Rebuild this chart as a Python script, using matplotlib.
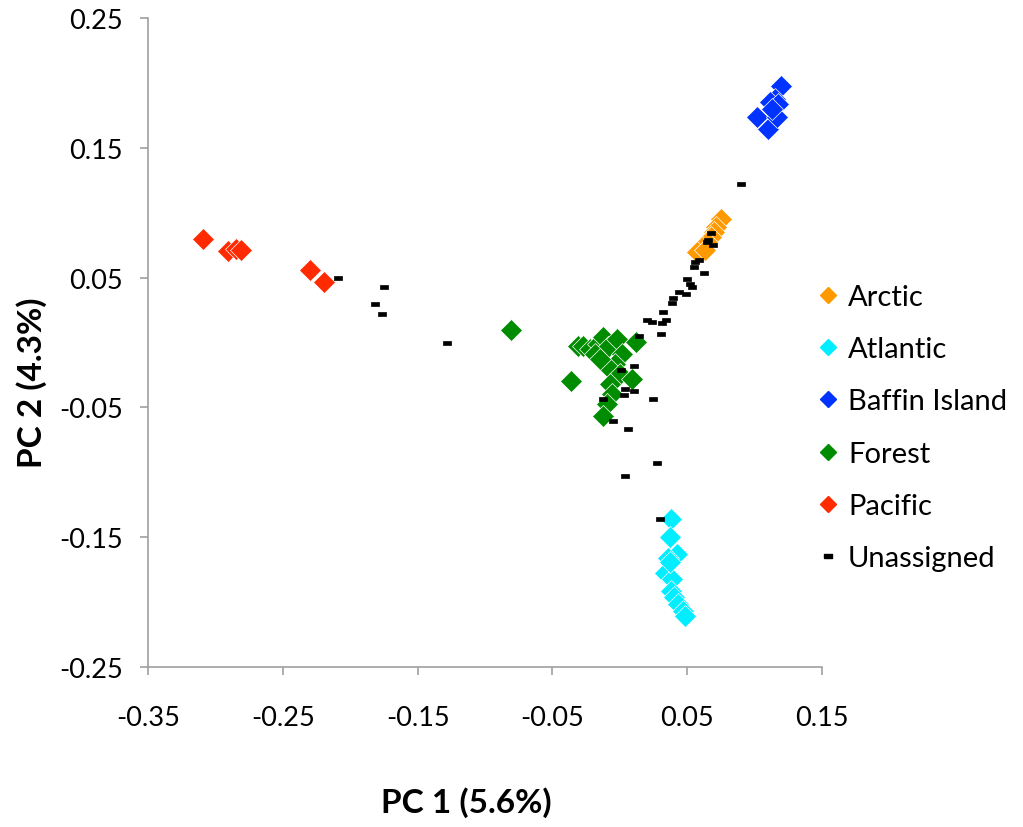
import numpy as np
import matplotlib.pyplot as plt
from matplotlib.lines import Line2D

plt.rcParams['font.family'] = ['Lato', 'DejaVu Sans']

# PCA scores per population (PC1, PC2)
arctic_pc1 = [0.0751, 0.0714, 0.0699, 0.0677, 0.0647, 0.0610, 0.0573, 0.0630]
arctic_pc2 = [0.0951, 0.0890, 0.0851, 0.0813, 0.0774, 0.0736, 0.0697, 0.0713]

atlantic_pc1 = [0.0380, 0.0372, 0.0424, 0.0358, 0.0335, 0.0387, 0.0372, 0.0380,
                0.0402, 0.0432, 0.0469, 0.0484]
atlantic_pc2 = [-0.1360, -0.1498, -0.1629, -0.1660, -0.1776, -0.1822, -0.1691, -0.1914,
                -0.1960, -0.2015, -0.2069, -0.2107]

baffin_pc1 = [0.1196, 0.1151, 0.1114, 0.1174, 0.1018, 0.1099, 0.1166, 0.1129]
baffin_pc2 = [0.1976, 0.1876, 0.1853, 0.1837, 0.1737, 0.1645, 0.1737, 0.1799]

forest_pc1 = [-0.0807, -0.0362, -0.0310, -0.0273, -0.0221, -0.0162, -0.0125, -0.0088,
              -0.0021, 0.0016, -0.0036, -0.0073, 0.0001, 0.0090, -0.0073, -0.0058,
              -0.0095, -0.0125, 0.0120, -0.0184, -0.0147]
forest_pc2 = [0.0096, -0.0297, -0.0027, -0.0027, -0.0050, -0.0012, 0.0042, -0.0035,
              0.0027, -0.0089, -0.0166, -0.0204, -0.0243, -0.0281, -0.0320, -0.0397,
              -0.0474, -0.0566, 0.0004, -0.0089, -0.0127]

pacific_pc1 = [-0.3090, -0.2907, -0.2847, -0.2810, -0.2298, -0.2194]
pacific_pc2 = [0.0797, 0.0705, 0.0720, 0.0713, 0.0559, 0.0466]

unassigned_pc1 = [-0.2091, -0.1749, -0.1816, -0.1764, -0.1282, 0.0899, 0.0677, 0.0654,
                  0.0691, 0.0647, 0.0588, 0.0558, 0.0550, 0.0625, 0.0499, 0.0521,
                  0.0536, 0.0439, 0.0491, 0.0395, 0.0387, 0.0320, 0.0202, 0.0239,
                  0.0313, 0.0343, 0.0306, 0.0142, 0.0105, 0.0009, 0.0039, 0.0105,
                  0.0031, -0.0125, 0.0246, -0.0050, 0.0061, 0.0276, 0.0039, 0.0298]
unassigned_pc2 = [0.0497, 0.0428, 0.0297, 0.0220, -0.0004, 0.1221, 0.0844, 0.0790,
                  0.0751, 0.0774, 0.0636, 0.0620, 0.0582, 0.0535, 0.0489, 0.0451,
                  0.0428, 0.0389, 0.0374, 0.0343, 0.0304, 0.0235, 0.0173, 0.0158,
                  0.0150, 0.0173, 0.0065, 0.0050, -0.0181, -0.0212, -0.0358, -0.0374,
                  -0.0404, -0.0435, -0.0435, -0.0605, -0.0666, -0.0928, -0.1029, -0.1360]

groups = [
    ('Arctic', arctic_pc1, arctic_pc2, '#FF9900'),
    ('Atlantic', atlantic_pc1, atlantic_pc2, '#00EEFF'),
    ('Baffin Island', baffin_pc1, baffin_pc2, '#0033FF'),
    ('Forest', forest_pc1, forest_pc2, '#008C00'),
    ('Pacific', pacific_pc1, pacific_pc2, '#FF2A00'),
]

# short horizontal bar used for unassigned samples
dash = [(-1, -0.42), (1, -0.42), (1, 0.42), (-1, 0.42), (-1, -0.42)]

fig = plt.figure(figsize=(10.23, 8.28), dpi=100)
ax = fig.add_axes([148 / 1023, 1 - 668 / 828, 674 / 1023, 649 / 828])

handles = []
for name, xs, ys, col in groups:
    ax.plot(xs, ys, linestyle='none', marker='D', ms=11.5, mfc=col, mec='white',
            mew=0.5, clip_on=False)
    handles.append(Line2D([], [], linestyle='none', marker='D', ms=8,
                          mfc=col, mec=col, label=name))

ax.plot(unassigned_pc1, unassigned_pc2, linestyle='none', marker=dash, ms=6,
        mfc='black', mec='black', mew=0.5, zorder=3)
handles.append(Line2D([], [], linestyle='none', marker=dash, ms=6,
                      mfc='black', mec='black', label='Unassigned'))

ax.set_xlim(-0.35, 0.15)
ax.set_ylim(-0.25, 0.25)
ax.set_xticks(np.arange(-0.35, 0.16, 0.1))
ax.set_yticks(np.arange(-0.25, 0.26, 0.1))
ax.set_xticklabels(['-0.35', '-0.25', '-0.15', '-0.05', '0.05', '0.15'])
ax.set_yticklabels(['-0.25', '-0.15', '-0.05', '0.05', '0.15', '0.25'])

for side in ['top', 'right']:
    ax.spines[side].set_visible(False)
for side in ['left', 'bottom']:
    ax.spines[side].set_color('#A0A0A0')
    ax.spines[side].set_linewidth(1.2)
ax.tick_params(direction='out', length=6, width=1.2, color='#A0A0A0',
               labelsize=19.5, labelcolor='black')
ax.tick_params(axis='x', pad=21)
ax.tick_params(axis='y', pad=12)

fig.text(466 / 1023, 1 - 803 / 828, 'PC 1 (5.6%)', ha='center', va='center',
         fontsize=24, fontweight='bold')
fig.text(32 / 1023, 1 - 383 / 828, 'PC 2 (4.3%)', ha='center', va='center',
         fontsize=24, fontweight='bold', rotation=90)

fig.legend(handles=handles, loc='upper left', bbox_to_anchor=(813 / 1023, 1 - 285 / 828),
           frameon=False, fontsize=21, labelspacing=0.9, handletextpad=0.2,
           handlelength=1.0, borderpad=0, borderaxespad=0)

fig.savefig('out.png', dpi=100)
